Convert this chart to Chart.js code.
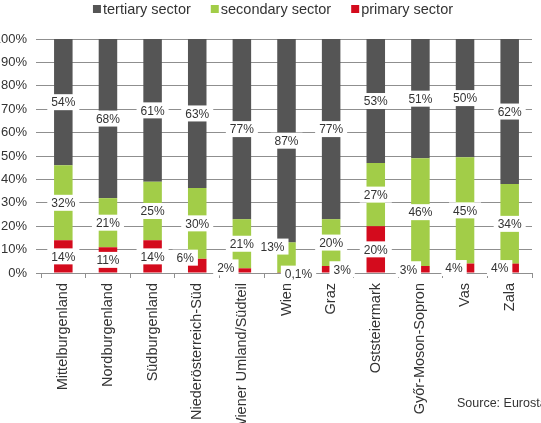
<!DOCTYPE html>
<html>
<head>
<meta charset="utf-8">
<script src="https://cdn.jsdelivr.net/npm/chart.js@4.4.1/dist/chart.umd.min.js"></script>
<style>
    html, body { margin: 0; padding: 0; background: #ffffff; }
    canvas { display: block; }
</style>
</head>
<body>
<canvas id="chart" width="541" height="423"></canvas>
<script>
const regions = ['Mittelburgenland', 'Nordburgenland', 'Südburgenland', 'Niederösterreich-Süd', 'Wiener Umland/Südteil',
    'Wien', 'Graz', 'Oststeiermark', 'Győr-Moson-Sopron', 'Vas', 'Zala'];
const primarySector = [14, 11, 14, 6, 2, 0.1, 3, 20, 3, 4, 4];
const secondarySector = [32, 21, 25, 30, 21, 13, 20, 27, 46, 45, 34];
const tertiarySector = [54, 68, 61, 63, 77, 87, 77, 53, 51, 50, 62];
const yTicks = [0, 10, 20, 30, 40, 50, 60, 70, 80, 90, 100];

const FONT = '"Liberation Sans", Arial, sans-serif';
const gridColor = '#8f8f8f';
const textColor = '#333333';

// 100% stacked: every column is scaled to a total of 100
const totals = regions.map((r, i) => primarySector[i] + secondarySector[i] + tertiarySector[i]);
const toShare = (arr) => arr.map((v, i) => v / totals[i] * 100);

// small labels that sit beside the bar instead of on it (dataset-index: [dx, dy])
const labelNudge = {
    '0-3': [-12, -8],
    '0-4': [-16, -3],
    '0-5': [12, 1],
    '0-6': [11, 0],
    '0-8': [-12, 0],
    '0-9': [-11, 0],
    '0-10': [-10, 0],
    '1-5': [-14, -11]
};

const valueLabels = {
    id: 'valueLabels',
    afterDatasetsDraw(chart) {
        const ctx = chart.ctx;
        ctx.save();
        ctx.font = '12px ' + FONT;
        ctx.textAlign = 'center';
        ctx.textBaseline = 'middle';
        chart.data.datasets.forEach((ds, di) => {
            chart.getDatasetMeta(di).data.forEach((bar, i) => {
                const raw = ds.raw[i];
                const text = String(raw).replace('.', ',') + '%';
                const nudge = labelNudge[di + '-' + i] || [0, 0];
                const x = bar.x + nudge[0];
                const y = (bar.y + bar.base) / 2 + nudge[1];
                const w = ctx.measureText(text).width + 8;
                ctx.fillStyle = '#ffffff';
                ctx.fillRect(x - w / 2, y - 8, w, 16);
                ctx.fillStyle = textColor;
                ctx.fillText(text, x, y + 1);
            });
        });
        ctx.restore();
    }
};

const legendAndSource = {
    id: 'legendAndSource',
    afterDraw(chart) {
        const ctx = chart.ctx;
        ctx.save();
        ctx.font = '14.5px ' + FONT;
        ctx.textBaseline = 'middle';
        const items = chart.data.datasets.slice().reverse();
        const widths = items.map(ds => 8 + 2 + ctx.measureText(ds.label).width);
        const total = widths.reduce((a, b) => a + b, 0) + 20 * (items.length - 1);
        let x = 273 - total / 2;
        items.forEach((ds, k) => {
            ctx.fillStyle = ds.backgroundColor;
            ctx.fillRect(x, 5, 8, 8);
            ctx.fillStyle = textColor;
            ctx.fillText(ds.label, x + 10, 10);
            x += widths[k] + 20;
        });

        ctx.font = '12.5px ' + FONT;
        ctx.fillStyle = textColor;
        ctx.fillText('Source: Eurostat', 457, 404);
        ctx.restore();
    }
};

new Chart(document.getElementById('chart'), {
    type: 'bar',
    data: {
        labels: regions,
        datasets: [{
            label: 'primary sector',
            data: toShare(primarySector),
            raw: primarySector,
            backgroundColor: '#d40b1d'
        }, {
            label: 'secondary sector',
            data: toShare(secondarySector),
            raw: secondarySector,
            backgroundColor: '#a2cd48'
        }, {
            label: 'tertiary sector',
            data: toShare(tertiarySector),
            raw: tertiarySector,
            backgroundColor: '#555555'
        }]
    },
    options: {
        responsive: false,
        animation: false,
        layout: { padding: { top: 39, right: 9, left: 0, bottom: 0 } },
        datasets: { bar: { categoryPercentage: 1, barPercentage: 0.415 } },
        plugins: {
            legend: { display: false },
            tooltip: { enabled: false }
        },
        scales: {
            x: {
                stacked: true,
                grid: { display: true, drawOnChartArea: false, drawTicks: true, tickLength: 5, color: gridColor, offset: true },
                border: { display: true, color: gridColor },
                ticks: {
                    autoSkip: false, minRotation: 90, maxRotation: 90, padding: 5,
                    color: textColor, font: { family: FONT, size: 14.5 }
                },
                afterFit(scale) { scale.height = 150; }
            },
            y: {
                stacked: true,
                min: 0,
                max: 100,
                afterBuildTicks(scale) { scale.ticks = yTicks.map(v => ({ value: v })); },
                grid: { color: gridColor, tickLength: 5 },
                border: { display: false },
                ticks: {
                    padding: 9, color: textColor, font: { family: FONT, size: 13 },
                    callback: v => v + '%'
                },
                afterFit(scale) { scale.width = 41; }
            }
        }
    },
    plugins: [valueLabels, legendAndSource]
});
</script>
</body>
</html>
